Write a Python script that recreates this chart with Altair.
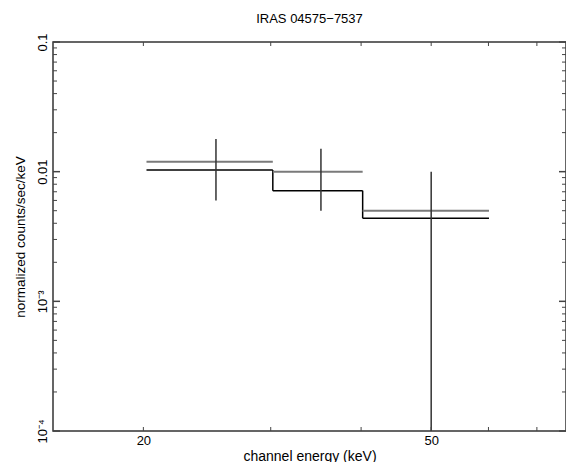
import altair as alt
import pandas as pd

title_text = "IRAS 04575\u22127537"
x_title = "channel energy (keV)"
y_title = "normalized counts/sec/keV"

# spectral bins (keV)
bin_lo = [20.2, 30.2, 40.2]
bin_hi = [30.2, 40.2, 60.1]
bin_center = [25.2, 35.2, 50.0]
# data points and errors
data_rate = [0.0119, 0.0100, 0.0050]
err_top = [0.0179, 0.0150, 0.0100]
err_bottom = [0.0060, 0.0050, 1e-6]
# folded model
model_rate = [0.0103, 0.00714, 0.00437]

# axis ticks
x_tick_vals = [20, 30, 40, 50, 60, 70]
x_label_vals = [20, 50]
y_major = [1e-4, 1e-3, 1e-2, 1e-1]
y_major_labels = ["10\u207b\u2074", "10\u207b\u00b3", "0.01", "0.1"]
y_minor_mult = [2, 3, 4, 5, 6, 7, 8, 9]

W, H = 513, 389
FONT = "Liberation Sans"

bins = pd.DataFrame({
    "lo": bin_lo, "hi": bin_hi, "center": bin_center,
    "rate": data_rate, "top": err_top, "bottom": err_bottom, "model": model_rate,
})
steps = pd.DataFrame({
    "edge": bin_hi[:-1], "m1": model_rate[:-1], "m2": model_rate[1:],
})
xt = pd.DataFrame({"v": x_tick_vals})
ymaj = pd.DataFrame({"v": y_major})
ymin = pd.DataFrame({"v": [d * m for d in y_major[:-1] for m in y_minor_mult]})

xs = alt.Scale(type="log", domain=[15.0, 76.8], nice=False)
ys = alt.Scale(type="log", domain=[1e-4, 0.1], nice=False)

label_expr = " : ".join(
    f"datum.value < {v * 1.5} ? '{lab}'" for v, lab in zip(y_major[:-1], y_major_labels[:-1])
) + f" : '{y_major_labels[-1]}'"

x_axis = alt.Axis(values=x_label_vals, ticks=False, tickSize=0, domain=False, grid=False,
                  labelFont=FONT, labelFontSize=13, labelColor="black", labelPadding=3,
                  title=x_title, titleFont=FONT, titleFontSize=14, titleFontWeight="normal",
                  titleColor="black", titleY=25, titleBaseline="middle")
y_axis = alt.Axis(values=y_major, ticks=False, tickSize=0, domain=False, grid=False,
                  labelExpr=label_expr, labelAngle=270, labelAlign="center",
                  labelBaseline="alphabetic", labelPadding=7,
                  labelFont=FONT, labelFontSize=13, labelColor="black",
                  title=y_title, titleFont=FONT, titleFontSize=13.5, titleFontWeight="normal",
                  titleColor="black", titleAngle=270, titleX=-33, titleY=H / 2,
                  titleAlign="center", titleBaseline="middle")


def X(field):
    return alt.X(field, type="quantitative", scale=xs, axis=x_axis)


def Y(field):
    return alt.Y(field, type="quantitative", scale=ys, axis=y_axis)


model_h = alt.Chart(bins).mark_rule(color="black", strokeWidth=1.5).encode(
    x=X("lo"), x2="hi", y=Y("model"))
model_v = alt.Chart(steps).mark_rule(color="black", strokeWidth=1.5).encode(
    x=X("edge"), y=Y("m1"), y2="m2")
data_h = alt.Chart(bins).mark_rule(color="#7a7a7a", strokeWidth=2).encode(
    x=X("lo"), x2="hi", y=Y("rate"))
data_v = alt.Chart(bins).mark_rule(color="#333333", strokeWidth=1.5, clip=True).encode(
    x=X("center"), y=Y("bottom"), y2="top")

tick_color = "#444444"
xt_bot = alt.Chart(xt).mark_rule(color=tick_color, strokeWidth=1).encode(
    x=X("v"), y=alt.value(H), y2=alt.value(H - 4))
xt_top = alt.Chart(xt).mark_rule(color=tick_color, strokeWidth=1).encode(
    x=X("v"), y=alt.value(0), y2=alt.value(4))
ymaj_l = alt.Chart(ymaj).mark_rule(color=tick_color, strokeWidth=1.5).encode(
    y=Y("v"), x=alt.value(0), x2=alt.value(7))
ymaj_r = alt.Chart(ymaj).mark_rule(color=tick_color, strokeWidth=1.5).encode(
    y=Y("v"), x=alt.value(W), x2=alt.value(W - 7))
ymin_l = alt.Chart(ymin).mark_rule(color=tick_color, strokeWidth=1).encode(
    y=Y("v"), x=alt.value(0), x2=alt.value(4))
ymin_r = alt.Chart(ymin).mark_rule(color=tick_color, strokeWidth=1).encode(
    y=Y("v"), x=alt.value(W), x2=alt.value(W - 4))

chart = alt.layer(
    model_h, model_v, data_h, data_v,
    xt_bot, xt_top, ymaj_l, ymaj_r, ymin_l, ymin_r,
).properties(
    width=W, height=H,
    autosize=alt.AutoSizeParams(type="none"),
    padding={"left": 45, "top": 34, "right": 0, "bottom": 31},
    title=alt.Title(title_text, font=FONT, fontSize=13, fontWeight="normal",
                    color="black", anchor="middle", frame="group",
                    baseline="bottom", offset=17, dy=23),
).configure_view(
    stroke="#333333", strokeWidth=1.5
)

chart.save("out.html", embed_options={"renderer": "svg", "actions": False})
